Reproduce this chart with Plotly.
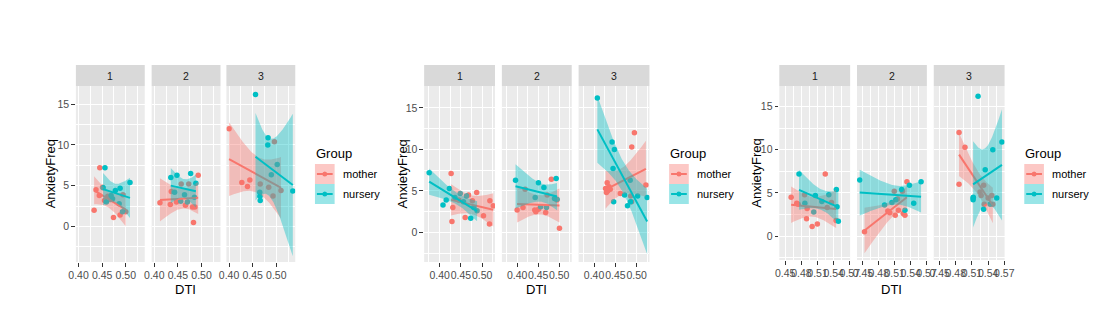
import numpy as np
import plotly.graph_objects as go

# ------------------------------------------------------------------ data
facet_labels = ["1", "2", "3"]
group_labels = ["mother", "nursery"]

# Panel A
a1_mother_dti = [0.433, 0.437, 0.444, 0.445, 0.451, 0.455, 0.462, 0.468, 0.474, 0.488, 0.494, 0.500]
a1_mother_anx = [2.0, 4.5, 3.8, 7.2, 4.8, 3.2, 3.7, 3.3, 1.1, 1.4, 3.9, 1.8]
a1_nursery_dti = [0.452, 0.456, 0.459, 0.469, 0.472, 0.478, 0.486, 0.488, 0.493, 0.509]
a1_nursery_anx = [4.75, 7.2, 3.0, 3.8, 3.4, 4.4, 2.8, 4.7, 1.8, 5.4]
a2_mother_dti = [0.412, 0.434, 0.436, 0.447, 0.457, 0.466, 0.473, 0.481, 0.483, 0.486, 0.493]
a2_mother_anx = [2.9, 2.7, 4.3, 3.0, 5.2, 2.6, 5.2, 2.4, 0.5, 2.4, 6.3]
a2_nursery_dti = [0.435, 0.443, 0.448, 0.456, 0.464, 0.470, 0.477, 0.485, 0.488]
a2_nursery_anx = [6.0, 4.2, 6.3, 3.1, 3.9, 3.0, 6.5, 3.6, 5.3]
a3_mother_dti = [0.400, 0.427, 0.439, 0.444, 0.466, 0.484, 0.493, 0.496, 0.510]
a3_mother_anx = [12.0, 5.4, 4.9, 5.7, 5.2, 4.8, 3.75, 10.4, 4.4]
a3_nursery_dti = [0.456, 0.465, 0.4655, 0.466, 0.482, 0.4826, 0.4895, 0.502, 0.535]
a3_nursery_anx = [16.2, 4.2, 3.7, 3.2, 10.0, 10.9, 6.35, 7.6, 4.35]

# Panel B
b1_mother_dti = [0.427, 0.429, 0.431, 0.445, 0.460, 0.468, 0.477, 0.487, 0.503, 0.517, 0.518, 0.526]
b1_mother_anx = [7.1, 1.3, 3.0, 3.9, 1.8, 4.5, 3.8, 4.8, 2.0, 1.0, 3.8, 3.2]
b1_nursery_dti = [0.3755, 0.408, 0.4155, 0.423, 0.436, 0.4485, 0.456, 0.463, 0.473, 0.480, 0.488]
b1_nursery_anx = [7.2, 3.3, 3.9, 5.3, 4.2, 4.7, 3.7, 4.4, 1.7, 3.0, 2.6]
b2_mother_dti = [0.400, 0.414, 0.419, 0.442, 0.4446, 0.451, 0.468, 0.4715, 0.4815, 0.4946, 0.5008]
b2_mother_anx = [2.7, 3.0, 5.2, 2.7, 2.5, 2.8, 2.4, 4.5, 6.4, 3.9, 0.5]
b2_nursery_dti = [0.3962, 0.443, 0.4508, 0.456, 0.4638, 0.470, 0.489, 0.493, 0.495]
b2_nursery_anx = [6.3, 4.2, 6.0, 3.1, 5.4, 3.0, 4.1, 6.5, 4.0]
b3_mother_dti = [0.427, 0.429, 0.4307, 0.432, 0.435, 0.438, 0.4617, 0.486, 0.488, 0.4885, 0.4947, 0.5217]
b3_mother_anx = [5.3, 4.8, 6.0, 5.0, 5.5, 5.2, 4.7, 4.4, 3.7, 10.3, 12.0, 5.7]
b3_nursery_dti = [0.4077, 0.4423, 0.4446, 0.4477, 0.446, 0.4716, 0.4785, 0.4848, 0.4856, 0.5023, 0.5247]
b3_nursery_anx = [16.2, 10.9, 7.7, 10.0, 3.7, 4.5, 3.2, 6.3, 3.7, 4.4, 4.2]

# Panel C
c1_mother_dti = [0.461, 0.4714, 0.474, 0.486, 0.4896, 0.4907, 0.500, 0.5097, 0.5244, 0.528, 0.536, 0.5445]
c1_mother_anx = [4.5, 3.8, 3.7, 4.8, 2.0, 3.2, 1.1, 1.4, 7.2, 3.3, 3.9, 1.8]
c1_nursery_dti = [0.4756, 0.4865, 0.503, 0.506, 0.518, 0.531, 0.545, 0.5463, 0.5487]
c1_nursery_anx = [7.2, 3.8, 2.8, 4.7, 4.0, 4.8, 5.4, 3.4, 1.7]
c2_mother_dti = [0.4531, 0.497, 0.5007, 0.5092, 0.511, 0.5152, 0.5171, 0.5244, 0.5293, 0.533, 0.526]
c2_mother_anx = [0.5, 2.9, 2.7, 5.2, 2.4, 4.3, 3.0, 5.2, 2.4, 6.3, 2.6]
c2_nursery_dti = [0.444, 0.4909, 0.5048, 0.512, 0.5231, 0.5293, 0.5377, 0.5458, 0.5597]
c2_nursery_anx = [6.5, 3.6, 3.9, 4.2, 5.4, 3.0, 5.9, 3.8, 6.3]
c3_mother_dti = [0.486, 0.486, 0.497, 0.525, 0.527, 0.5317, 0.5328, 0.540, 0.5469, 0.5488]
c3_mother_anx = [12.0, 6.0, 10.3, 5.1, 4.7, 5.9, 3.7, 4.4, 4.7, 3.7]
c3_nursery_dti = [0.5121, 0.5121, 0.5125, 0.5213, 0.5317, 0.5346, 0.5438, 0.5487, 0.556, 0.5657]
c3_nursery_anx = [4.4, 4.2, 4.5, 16.2, 3.1, 7.7, 3.7, 10.0, 4.4, 10.9]

# tick labels
ab_x_ticks = [0.40, 0.45, 0.50]
ab_x_minor = [0.375, 0.425, 0.475, 0.525]
c_x_ticks = [0.45, 0.48, 0.51, 0.54, 0.57]
c_x_minor = [0.435, 0.465, 0.495, 0.525, 0.555, 0.585]
y_ticks = [0, 5, 10, 15]
y_minor = [-2.5, 2.5, 7.5, 12.5]

# ------------------------------------------------------------------ style / layout
W, H = 1111, 334
COL = {"mother": "#F8766D", "nursery": "#00BFC4"}
FILL = {"mother": "rgba(248,118,109,0.4)", "nursery": "rgba(0,191,196,0.4)"}
FONT = "Liberation Sans, Arial, sans-serif"
T975 = {5: 2.571, 6: 2.447, 7: 2.365, 8: 2.306, 9: 2.262, 10: 2.228, 11: 2.201, 12: 2.179, 13: 2.160}

panels = [
    dict(data=[[(a1_mother_dti, a1_mother_anx), (a1_nursery_dti, a1_nursery_anx)],
               [(a2_mother_dti, a2_mother_anx), (a2_nursery_dti, a2_nursery_anx)],
               [(a3_mother_dti, a3_mother_anx), (a3_nursery_dti, a3_nursery_anx)]],
         facets=[(69, 139), (146, 216), (222, 292)], top=86, bottom=262,
         xr=[0.3944, 0.5402], yr=[-4.36, 17.24], xt=ab_x_ticks, xm=ab_x_minor,
         ytitle_x=43, leg_x=312),
    dict(data=[[(b1_mother_dti, b1_mother_anx), (b1_nursery_dti, b1_nursery_anx)],
               [(b2_mother_dti, b2_mother_anx), (b2_nursery_dti, b2_nursery_anx)],
               [(b3_mother_dti, b3_mother_anx), (b3_nursery_dti, b3_nursery_anx)]],
         facets=[(423, 495), (502, 573), (580, 652)], top=86, bottom=262,
         xr=[0.3637, 0.530], yr=[-3.57, 17.65], xt=ab_x_ticks, xm=ab_x_minor,
         ytitle_x=400, leg_x=672),
    dict(data=[[(c1_mother_dti, c1_mother_anx), (c1_nursery_dti, c1_nursery_anx)],
               [(c2_mother_dti, c2_mother_anx), (c2_nursery_dti, c2_nursery_anx)],
               [(c3_mother_dti, c3_mother_anx), (c3_nursery_dti, c3_nursery_anx)]],
         facets=[(784, 856), (863, 934), (941, 1013)], top=86, bottom=260,
         xr=[0.439, 0.5706], yr=[-2.78, 17.40], xt=c_x_ticks, xm=c_x_minor,
         ytitle_x=760, leg_x=1033),
]
STRIP_TOP = 65


def fx(px):
    return px / W


def fy(py):
    return 1 - py / H


def lm_band(x, y, n_grid=80):
    x = np.asarray(x, float)
    y = np.asarray(y, float)
    n = len(x)
    b1, b0 = np.polyfit(x, y, 1)
    xg = np.linspace(x.min(), x.max(), n_grid)
    yhat = b0 + b1 * xg
    resid = y - (b0 + b1 * x)
    s = np.sqrt(np.sum(resid ** 2) / (n - 2))
    sxx = np.sum((x - x.mean()) ** 2)
    se = s * np.sqrt(1.0 / n + (xg - x.mean()) ** 2 / sxx)
    t = T975[n - 2]
    return xg, yhat, yhat - t * se, yhat + t * se


fig = go.Figure()
layout = dict(width=W, height=H, margin=dict(l=0, r=0, t=0, b=0, pad=0),
              paper_bgcolor="white", plot_bgcolor="#EBEBEB", showlegend=False,
              font=dict(family=FONT, color="#4D4D4D"))
shapes, annotations = [], []

k = 0
for p in panels:
    for fi, (l, r) in enumerate(p["facets"]):
        k += 1
        xa = "x" if k == 1 else f"x{k}"
        ya = "y" if k == 1 else f"y{k}"
        xkey = "xaxis" if k == 1 else f"xaxis{k}"
        ykey = "yaxis" if k == 1 else f"yaxis{k}"
        layout[xkey] = dict(
            domain=[fx(l), fx(r)], anchor=ya, range=p["xr"], showline=False, zeroline=False,
            tickmode="array", tickvals=p["xt"], ticktext=[f"{v:.2f}" for v in p["xt"]],
            tickangle=0,
            ticks="outside", ticklen=3.7, tickwidth=1, tickcolor="#333333",
            tickfont=dict(family=FONT, size=10.5, color="#4D4D4D"),
            showgrid=True, gridcolor="white", gridwidth=1.07,
            minor=dict(tickmode="array", tickvals=p["xm"], showgrid=True,
                       gridcolor="white", gridwidth=0.55, ticks=""),
            fixedrange=True)
        layout[ykey] = dict(
            domain=[fy(p["bottom"]), fy(p["top"])], anchor=xa, range=p["yr"],
            showline=False, zeroline=False,
            tickmode="array", tickvals=y_ticks, ticktext=[str(v) for v in y_ticks],
            ticks="outside" if fi == 0 else "", ticklen=3.7, tickwidth=1, tickcolor="#333333",
            showticklabels=(fi == 0),
            tickfont=dict(family=FONT, size=10.5, color="#4D4D4D"),
            showgrid=True, gridcolor="white", gridwidth=1.07,
            minor=dict(tickmode="array", tickvals=y_minor, showgrid=True,
                       gridcolor="white", gridwidth=0.55, ticks=""),
            fixedrange=True)

        groups = p["data"][fi]
        # points layer
        for gname, (gx, gy) in zip(group_labels, groups):
            fig.add_trace(go.Scatter(x=gx, y=gy, mode="markers", xaxis=xa, yaxis=ya,
                                     marker=dict(size=5.5, color=COL[gname], line=dict(width=0)),
                                     hoverinfo="skip"))
        # smooth layer
        for gname, (gx, gy) in zip(group_labels, groups):
            xg, yh, lo, hi = lm_band(gx, gy)
            fig.add_trace(go.Scatter(x=np.concatenate([xg, xg[::-1]]),
                                     y=np.concatenate([hi, lo[::-1]]),
                                     mode="lines", fill="toself", fillcolor=FILL[gname],
                                     line=dict(width=0), xaxis=xa, yaxis=ya, hoverinfo="skip"))
            fig.add_trace(go.Scatter(x=xg, y=yh, mode="lines", xaxis=xa, yaxis=ya,
                                     line=dict(color=COL[gname], width=2), hoverinfo="skip"))

        # strip
        shapes.append(dict(type="rect", xref="paper", yref="paper",
                           x0=fx(l), x1=fx(r), y0=fy(p["top"]), y1=fy(STRIP_TOP),
                           fillcolor="#D9D9D9", line=dict(width=0), layer="below"))
        annotations.append(dict(text=facet_labels[fi], xref="paper", yref="paper",
                                x=fx((l + r) / 2), y=fy((STRIP_TOP + p["top"]) / 2),
                                showarrow=False, xanchor="center", yanchor="middle",
                                font=dict(family=FONT, size=10.5, color="#1A1A1A")))

    # axis titles
    l0, r0 = p["facets"][0][0], p["facets"][-1][1]
    annotations.append(dict(text="DTI", xref="paper", yref="paper", x=fx((l0 + r0) / 2),
                            y=fy(289), showarrow=False, xanchor="center", yanchor="middle",
                            font=dict(family=FONT, size=13, color="black")))
    annotations.append(dict(text="AnxietyFreq", xref="paper", yref="paper",
                            x=fx(p["ytitle_x"]), y=fy((p["top"] + p["bottom"]) / 2),
                            showarrow=False, textangle=-90, xanchor="center", yanchor="middle",
                            font=dict(family=FONT, size=13, color="black")))
    # legend
    lx = p["leg_x"]
    annotations.append(dict(text="Group", xref="paper", yref="paper", x=fx(lx - 1), y=fy(153),
                            showarrow=False, xanchor="left", yanchor="middle",
                            font=dict(family=FONT, size=13, color="black")))
    for gi, gname in enumerate(group_labels):
        y0 = 164 + gi * 20
        yc = y0 + 10
        shapes.append(dict(type="rect", xref="paper", yref="paper", x0=fx(lx), x1=fx(lx + 20),
                           y0=fy(y0 + 20), y1=fy(y0), fillcolor=FILL[gname], line=dict(width=0)))
        shapes.append(dict(type="line", xref="paper", yref="paper", x0=fx(lx + 2), x1=fx(lx + 18),
                           y0=fy(yc), y1=fy(yc), line=dict(color=COL[gname], width=2)))
        shapes.append(dict(type="circle", xref="paper", yref="paper", x0=fx(lx + 7.5), x1=fx(lx + 12.5),
                           y0=fy(yc + 2.5), y1=fy(yc - 2.5), fillcolor=COL[gname], line=dict(width=0)))
        annotations.append(dict(text=gname, xref="paper", yref="paper", x=fx(lx + 26), y=fy(yc),
                                showarrow=False, xanchor="left", yanchor="middle",
                                font=dict(family=FONT, size=11, color="black")))

layout["shapes"] = shapes
layout["annotations"] = annotations
fig.update_layout(**layout)
fig.write_html("out.html", config={"displayModeBar": False},
               post_script="document.body.style.margin='0px';document.body.style.overflow='hidden';")
